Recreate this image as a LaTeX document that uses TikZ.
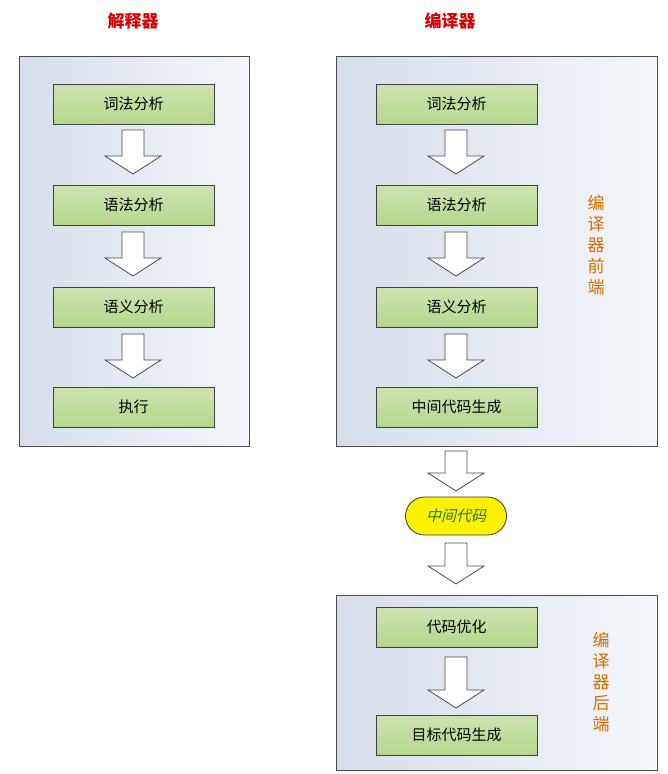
\documentclass[tikz,border=0pt]{standalone}
\usepackage{fontspec}
\setmainfont{Noto Sans CJK SC}
\newfontfamily\cjkit[FakeSlant=0.25]{Noto Sans CJK SC}
\definecolor{contL}{RGB}{214,222,234}
\definecolor{contR}{RGB}{244,247,251}
\begin{document}
\begin{tikzpicture}[x=1pt,y=-1pt,
  cont/.style={left color=contL,right color=contR},
  stepbox/.style={draw=black!75,line width=0.8pt,minimum width=161pt,minimum height=40pt,top color=green!25!olive!30!white,bottom color=green!30!olive!45!white,font=\fontsize{15}{15}\selectfont,inner sep=0pt},
  ttl/.style={text=red!85!black,font=\fontsize{17}{17}\selectfont\bfseries},
  side/.style={text=orange!85!black,font=\fontsize{17}{21}\selectfont,align=center}]
\useasboundingbox (0,0) rectangle (667,774);
\newcommand\barrow[3]{% x, ytop, ybottom
  \draw[black!70,fill=white,line width=0.8pt] (#1-11,#2) -- (#1+11,#2) -- (#1+11,#3-18) -- (#1+28,#3-18) -- (#1,#3) -- (#1-28,#3-18) -- (#1-11,#3-18) -- cycle;}
\node[ttl] (t1) at (133,21) {解释器};
\node[ttl] (t2) at (450,21) {编译器};
\fill[cont] (19,56) rectangle (249,446);
\draw[black!70,line width=0.8pt] (19,56) rectangle (249,446);
\fill[cont] (336,56) rectangle (657,446);
\draw[black!70,line width=0.8pt] (336,56) rectangle (657,446);
\fill[cont] (336,595) rectangle (657,770);
\draw[black!70,line width=0.8pt] (336,595) rectangle (657,770);
\node[stepbox] (l1) at (133.5,104) {词法分析};
\node[stepbox] (l2) at (133.5,205) {语法分析};
\node[stepbox] (l3) at (133.5,307) {语义分析};
\node[stepbox] (l4) at (133.5,407) {执行};
\node[stepbox] (r1) at (456.5,104) {词法分析};
\node[stepbox] (r2) at (456.5,205) {语法分析};
\node[stepbox] (r3) at (456.5,307) {语义分析};
\node[stepbox] (r4) at (456.5,407) {中间代码生成};
\node[stepbox] (b1) at (456.5,627) {代码优化};
\node[stepbox] (b2) at (456.5,735) {目标代码生成};
\barrow{133}{130}{174}
\barrow{133}{232}{276}
\barrow{133}{334}{378}
\barrow{456}{130}{174}
\barrow{456}{232}{276}
\barrow{456}{334}{378}
\barrow{456}{451}{491}
\barrow{456}{543}{584}
\barrow{456}{657}{708}
\node[draw=black!80,line width=0.8pt,fill=yellow,rounded corners=19pt,minimum width=101pt,minimum height=38pt,text=green!45!black!70!gray,font=\fontsize{15}{15}\selectfont\cjkit] (mid) at (456,516) {中间代码};
\node[side] (s1) at (596,245) {编\\译\\器\\前\\端};
\node[side] (s2) at (601,682) {编\\译\\器\\后\\端};
\end{tikzpicture}
\end{document}
